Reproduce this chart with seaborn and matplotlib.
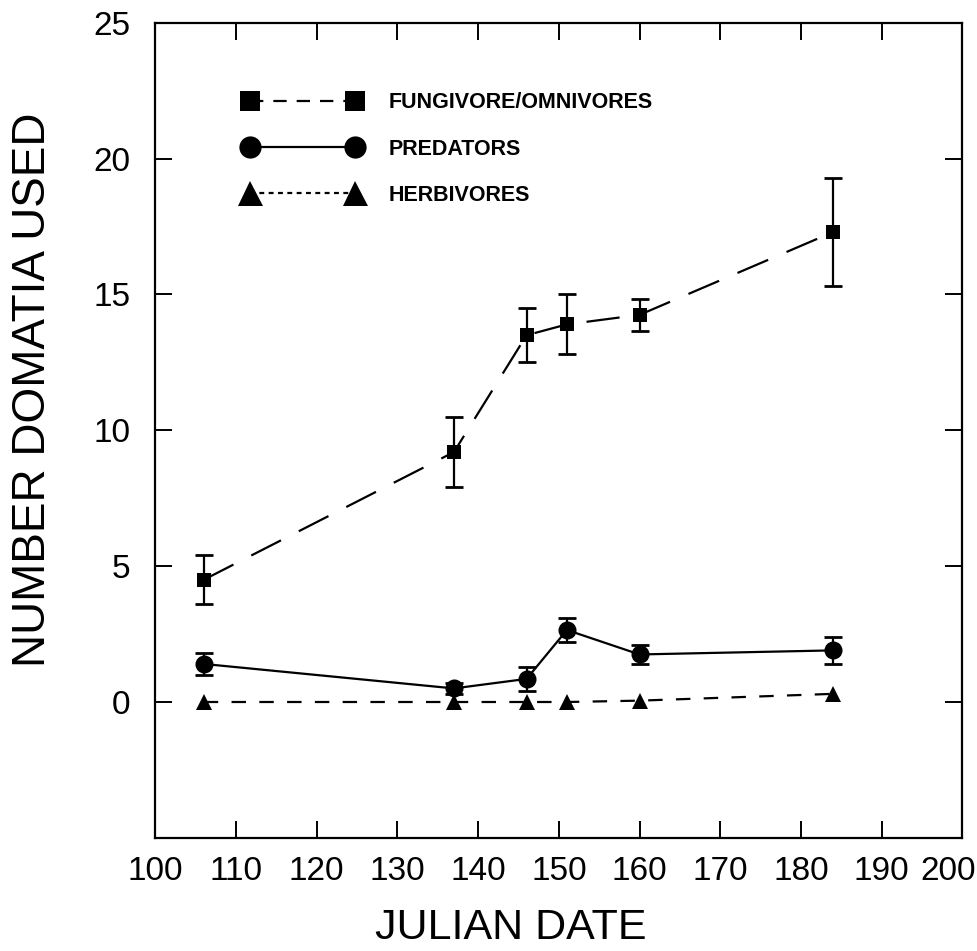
import seaborn as sns
import pandas as pd
import matplotlib
import matplotlib.pyplot as plt
import matplotlib.transforms as mtransforms
from matplotlib.lines import Line2D
import numpy as np
matplotlib.use('Agg')

# values
julian_date = [106, 137, 146, 151, 160, 184]
fungivore = [4.5, 9.2, 13.5, 13.9, 14.25, 17.3]
fungivore_err = [0.9, 1.3, 1.0, 1.1, 0.6, 2.0]
predators = [1.4, 0.5, 0.85, 2.65, 1.75, 1.9]
predators_err = [0.4, 0.2, 0.45, 0.45, 0.35, 0.5]
herbivores = [0.0, 0.0, 0.0, 0.0, 0.05, 0.3]
herbivores_err = [0.0, 0.0, 0.0, 0.0, 0.0, 0.0]

series_names = ["FUNGIVORE/OMNIVORES", "PREDATORS", "HERBIVORES"]

sns.set_style("ticks", {"axes.edgecolor": "black", "text.color": "black",
                        "axes.labelcolor": "black", "xtick.color": "black",
                        "ytick.color": "black"})
plt.rcParams['font.family'] = ['Liberation Sans', 'DejaVu Sans']

df = pd.DataFrame({
    "date": julian_date * 3,
    "value": fungivore + predators + herbivores,
    "err": fungivore_err + predators_err + herbivores_err,
    "group": [series_names[0]] * 6 + [series_names[1]] * 6 + [series_names[2]] * 6,
})

# plot style / legend style for each group
styles = {
    series_names[0]: dict(marker="s", ms=10, ls=(0, (15, 9)), leg_ls=(0, (6, 4.5)), leg_ms=14.5),
    series_names[1]: dict(marker="o", ms=13, ls="-", leg_ls="-", leg_ms=16),
    series_names[2]: dict(marker="^", ms=11, ls=(0, (6.5, 6)), leg_ls=(0, (2.2, 2)), leg_ms=18),
}

fig = plt.figure(figsize=(9.77, 9.51), dpi=100)
ax = fig.add_axes([0.159, 0.119, 0.826, 0.857])

for name in series_names:
    sub = df[df["group"] == name]
    st = styles[name]
    sns.lineplot(data=sub, x="date", y="value", ax=ax, color="black",
                 linewidth=1.6, linestyle=st["ls"], marker=st["marker"],
                 markersize=st["ms"], markeredgewidth=0, legend=False)
    e = sub[sub["err"] > 0]
    ax.errorbar(e["date"], e["value"], yerr=e["err"], fmt="none",
                ecolor="black", elinewidth=1.6, capsize=6.5, capthick=2)

ax.set_xlim(100, 200)
ax.set_ylim(-5, 25)
ax.set_xticks(np.arange(100, 201, 10))
ax.set_yticks(np.arange(0, 26, 5))
ax.tick_params(direction="in", length=12, width=1.4, labelsize=24,
               top=True, right=True, colors="black")
ax.tick_params(axis="x", pad=13)
ax.tick_params(axis="y", pad=18)
for sp in ax.spines.values():
    sp.set_linewidth(1.6)
    sp.set_color("black")
ax.set_xlabel("JULIAN DATE", fontsize=31, color="black")
ax.xaxis.set_label_coords(0.44, -0.086)
ax.set_ylabel("NUMBER DOMATIA USED", fontsize=33, color="black")
ax.yaxis.set_label_coords(-0.124, 0.55)

handles = []
for name in series_names:
    st = styles[name]
    handles.append(Line2D([0], [0], color="black", linewidth=1.6,
                          linestyle=st["leg_ls"], marker=st["marker"],
                          markersize=st["leg_ms"], markeredgewidth=0))
leg = ax.legend(handles, series_names, loc="upper left",
                bbox_to_anchor=(0.109, 0.915), borderpad=0, borderaxespad=0,
                numpoints=2, handlelength=5.5, frameon=False,
                prop={"size": 15.5, "weight": "bold"}, labelspacing=1.18,
                handletextpad=1.25, labelcolor="black")

# the last x label sits a little left of its tick, as in the original
fig.canvas.draw()
last = ax.get_xticklabels()[-1]
last.set_transform(last.get_transform() +
                   mtransforms.ScaledTranslation(-0.14, 0, fig.dpi_scale_trans))

fig.savefig("out.png", dpi=100)
